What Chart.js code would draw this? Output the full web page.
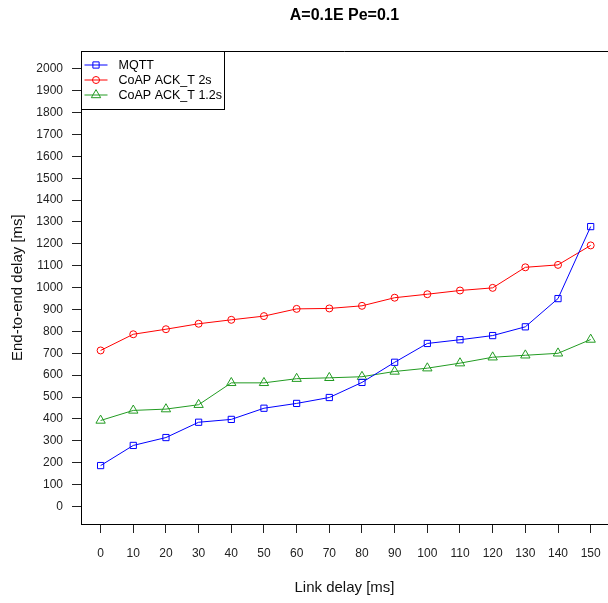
<!DOCTYPE html>
<html>
<head>
<meta charset="utf-8">
<title>A=0.1E Pe=0.1</title>
<script src="https://cdn.jsdelivr.net/npm/chart.js@4.4.1/dist/chart.umd.min.js"></script>
<style>
  html, body { margin: 0; padding: 0; background: #fff; overflow: hidden; }
  #wrap { width: 608px; height: 603px; }
</style>
</head>
<body>
<div id="wrap"><canvas id="delayChart" width="608" height="603"></canvas></div>
<script>
// Link delay values (x) and end-to-end delay per protocol (y, ms)
const linkDelays = [0, 10, 20, 30, 40, 50, 60, 70, 80, 90, 100, 110, 120, 130, 140, 150];
const mqttDelay = [187, 279, 315, 385, 398, 449, 471, 498, 567, 659, 745, 762, 781, 821, 950, 1279];
const coap2sDelay = [713, 787, 810, 835, 853, 870, 903, 905, 917, 954, 970, 987, 999, 1093, 1104, 1193];
const coap12sDelay = [393, 439, 445, 465, 565, 565, 584, 588, 593, 617, 632, 655, 682, 691, 700, 763];
const seriesNames = ['MQTT', 'CoAP ACK_T 2s', 'CoAP ACK_T 1.2s'];
const xTickValues = [0, 10, 20, 30, 40, 50, 60, 70, 80, 90, 100, 110, 120, 130, 140, 150];
const yTickValues = [0, 100, 200, 300, 400, 500, 600, 700, 800, 900, 1000, 1100, 1200, 1300, 1400, 1500, 1600, 1700, 1800, 1900, 2000];

const FONT = '"Liberation Sans", Arial, Helvetica, sans-serif';

function pairs(ys) {
  return linkDelays.map((x, i) => ({ x: x, y: ys[i] }));
}

function series(label, ys, color, style, radius) {
  return {
    label: label,
    data: pairs(ys),
    borderColor: color,
    backgroundColor: 'rgba(0,0,0,0)',
    borderWidth: 1,
    tension: 0,
    pointStyle: style,
    pointRadius: radius,
    pointHoverRadius: radius,
    pointBorderWidth: 1,
    pointBorderColor: color,
    pointBackgroundColor: 'rgba(0,0,0,0)'
  };
}

// Title, top frame line and the boxed legend in the top-left corner
const framePlugin = {
  id: 'frame',
  afterDraw(chart) {
    const ctx = chart.ctx;
    const a = chart.chartArea;
    ctx.save();
    ctx.strokeStyle = '#000';
    ctx.lineWidth = 1;
    ctx.beginPath();
    ctx.moveTo(Math.round(a.left) + 0.5, Math.round(a.top) + 0.5);
    ctx.lineTo(chart.width, Math.round(a.top) + 0.5);
    ctx.stroke();

    ctx.fillStyle = '#000';
    ctx.font = 'bold 16px ' + FONT;
    ctx.textAlign = 'center';
    ctx.textBaseline = 'middle';
    ctx.fillText('A=0.1E Pe=0.1', 344.5, 16);

    // legend
    const lx = Math.round(a.left) + 0.5, ly = Math.round(a.top) + 0.5;
    const lw = 143, lh = 58;
    ctx.fillStyle = '#fff';
    ctx.fillRect(lx, ly, lw, lh);
    ctx.strokeStyle = '#000';
    ctx.strokeRect(lx, ly, lw, lh);
    ctx.font = '12.5px ' + FONT;
    ctx.textAlign = 'left';
    chart.data.datasets.forEach((ds, i) => {
      const y = ly + 13.5 + i * 15;
      ctx.strokeStyle = ds.borderColor;
      ctx.lineWidth = 1;
      ctx.beginPath();
      ctx.moveTo(lx + 3, y);
      ctx.lineTo(lx + 26, y);
      ctx.stroke();
      ctx.fillStyle = 'rgba(0,0,0,0)';
      Chart.helpers.drawPoint(ctx, {
        pointStyle: ds.pointStyle,
        radius: ds.pointRadius,
        borderWidth: 1,
        rotation: 0
      }, lx + 14.5, y);
      ctx.fillStyle = '#000';
      ctx.fillText(ds.label, lx + 37, y + 0.5);
    });
    ctx.restore();
  }
};

const ctx = document.getElementById('delayChart').getContext('2d');
new Chart(ctx, {
  type: 'line',
  data: {
    datasets: [
      series(seriesNames[0], mqttDelay, '#0000ff', 'rect', 4.4),
      series(seriesNames[1], coap2sDelay, '#ff0000', 'circle', 3.5),
      series(seriesNames[2], coap12sDelay, '#229b22', 'triangle', 5.4)
    ]
  },
  options: {
    responsive: false,
    animation: false,
    events: [],
    layout: { autoPadding: false, padding: { top: 51.3, right: 0, bottom: 0, left: 0 } },
    plugins: {
      legend: { display: false },
      title: { display: false },
      tooltip: { enabled: false }
    },
    scales: {
      x: {
        type: 'linear',
        position: 'bottom',
        // the frame is cut by the canvas edge on the right
        min: -6,
        max: 155.3,
        afterBuildTicks: (s) => { s.ticks = xTickValues.map(v => ({ value: v })); },
        afterFit: (s) => { s.height = 79; },
        grid: { drawOnChartArea: false, drawTicks: true, tickLength: 9, color: '#222', lineWidth: 1 },
        border: { display: true, color: '#000', width: 1 },
        ticks: {
          // tall line box keeps labels well below the tick marks
          autoSkip: false, maxRotation: 0, padding: 0, color: '#222',
          font: { family: FONT, size: 12, lineHeight: 3.53 },
          callback: (v) => String(v)
        },
        title: {
          display: true, text: 'Link delay [ms]', color: '#111',
          font: { family: FONT, size: 15 }, padding: { top: 0, bottom: 6 }
        }
      },
      y: {
        type: 'linear',
        min: -80,
        max: 2080,
        afterBuildTicks: (s) => { s.ticks = yTickValues.map(v => ({ value: v })); },
        afterFit: (s) => { s.width = 81; },
        grid: { drawOnChartArea: false, drawTicks: true, tickLength: 9, color: '#222', lineWidth: 1 },
        border: { display: true, color: '#000', width: 1 },
        ticks: {
          autoSkip: false, padding: 9, color: '#222',
          font: { family: FONT, size: 12 },
          callback: (v) => String(v)
        },
        title: {
          display: true, text: 'End-to-end delay [ms]', color: '#111',
          font: { family: FONT, size: 15 }, padding: { top: 9, bottom: 0 }
        }
      }
    }
  },
  plugins: [framePlugin]
});
</script>
</body>
</html>
